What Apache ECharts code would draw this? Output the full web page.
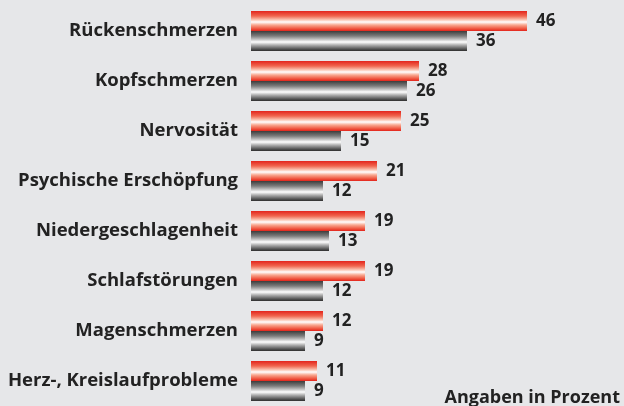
<!DOCTYPE html>
<html>
<head>
<meta charset="utf-8">
<script src="https://cdn.jsdelivr.net/npm/echarts@6/dist/echarts.min.js"></script>
<style>
  html, body { margin: 0; padding: 0; background: #e6e7e9; }
  #chart { width: 624px; height: 406px; }
</style>
</head>
<body>
<div id="chart"></div>
<script>
// Kategorien und Werte (Angaben in Prozent)
var categories = [
  'Rückenschmerzen',
  'Kopfschmerzen',
  'Nervosität',
  'Psychische Erschöpfung',
  'Niedergeschlagenheit',
  'Schlafstörungen',
  'Magenschmerzen',
  'Herz-, Kreislaufprobleme'
];
var redValues = [46, 28, 25, 21, 19, 19, 12, 11];
var grayValues = [36, 26, 15, 12, 13, 12, 9, 9];

(function () {
  var myChart = echarts.init(document.getElementById('chart'));

  // roter Balken mit hellem Streifen in der Mitte
  var redGradient = new echarts.graphic.LinearGradient(0, 0, 0, 1, [
    { offset: 0, color: '#e3241c' },
    { offset: 0.25, color: '#f0664f' },
    { offset: 0.45, color: '#fbc9b8' },
    { offset: 0.55, color: '#ffffff' },
    { offset: 0.7, color: '#f8a78f' },
    { offset: 0.9, color: '#ee4f39' },
    { offset: 1, color: '#e3241c' }
  ]);
  // grauer Balken
  var grayGradient = new echarts.graphic.LinearGradient(0, 0, 0, 1, [
    { offset: 0, color: '#3c3c3c' },
    { offset: 0.25, color: '#7d7d7d' },
    { offset: 0.45, color: '#d0d0d0' },
    { offset: 0.55, color: '#ffffff' },
    { offset: 0.7, color: '#b0b0b0' },
    { offset: 0.9, color: '#555555' },
    { offset: 1, color: '#2e2e2e' }
  ]);

  var labelStyle = {
    show: true,
    position: 'right',
    distance: 9,
    color: '#222',
    fontFamily: 'Open Sans',
    fontWeight: 'bold',
    fontSize: 17
  };

  var option = {
    backgroundColor: '#e6e7e9',
    animation: false,
    title: {
      text: 'Angaben in Prozent',
      right: -1,
      bottom: -6,
      textStyle: {
        color: '#222',
        fontFamily: 'Open Sans',
        fontWeight: 'bold',
        fontSize: 18
      }
    },
    grid: {
      left: 251,
      right: 13,
      top: 6,
      height: 404
    },
    xAxis: {
      type: 'value',
      min: 0,
      max: 60,
      show: false
    },
    yAxis: {
      type: 'category',
      data: categories,
      inverse: true,
      axisLine: { show: false },
      axisTick: { show: false },
      axisLabel: {
        margin: 13,
        color: '#222',
        fontFamily: 'Open Sans',
        fontWeight: 'bold',
        fontSize: 18.5,
        verticalAlign: 'middle',
        padding: [0, 0, 11, 0]
      }
    },
    series: [
      {
        name: 'rot',
        type: 'bar',
        data: redValues,
        barWidth: 20,
        barGap: '0%',
        itemStyle: { color: redGradient },
        label: labelStyle
      },
      {
        name: 'grau',
        type: 'bar',
        data: grayValues,
        barWidth: 20,
        barGap: '0%',
        itemStyle: { color: grayGradient },
        label: labelStyle
      }
    ]
  };

  myChart.setOption(option);
  window.addEventListener('resize', () => myChart.resize());
})();
</script>
</body>
</html>
